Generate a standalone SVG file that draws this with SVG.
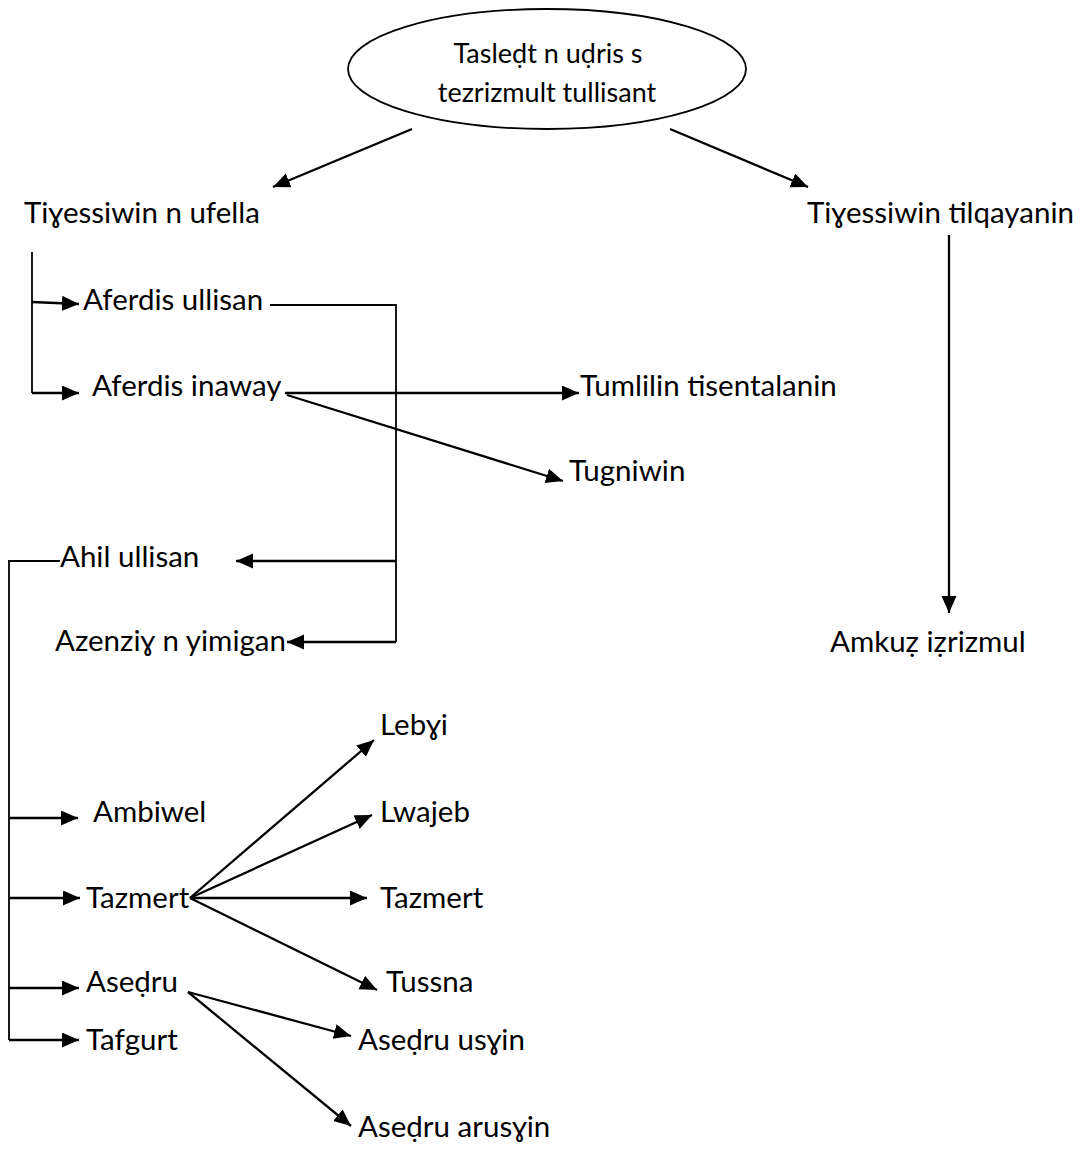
<svg xmlns="http://www.w3.org/2000/svg" width="1085" height="1169" viewBox="0 0 1085 1169">
  <style>
    .lbl { font-family: "Lato", "Noto Sans", "DejaVu Sans", sans-serif; font-size: 29.5px; fill: #000; }
    .root-lbl { font-family: "Lato", "Noto Sans", "DejaVu Sans", sans-serif; font-size: 27px; fill: #000; text-anchor: middle; }
    .arrow { stroke: #000; stroke-width: 2.3; fill: none; marker-end: url(#head); }
    .plain { stroke: #000; stroke-width: 1.8; fill: none; }
  </style>
  <defs>
    <marker id="head" markerUnits="userSpaceOnUse" markerWidth="18" markerHeight="16" refX="17" refY="7.5" orient="auto">
      <path d="M0,0 L17,7.5 L0,15 z" fill="#000"/>
    </marker>
  </defs>
  <rect width="1085" height="1169" fill="#fff"/>

  <!-- connectors -->
  <g id="connectors">
    <!-- root to the two branches -->
    <line class="arrow" x1="412" y1="129" x2="273" y2="187"/>
    <line class="arrow" x1="670" y1="129" x2="808" y2="187"/>
    <!-- right branch -->
    <line class="arrow" x1="949" y1="235" x2="949" y2="613"/>
    <!-- left branch bracket -->
    <path class="plain" d="M32,252 V393"/>
    <line class="arrow" x1="32" y1="302" x2="79" y2="304"/>
    <line class="arrow" x1="32" y1="393" x2="79" y2="393"/>
    <!-- Aferdis ullisan loop -->
    <path class="plain" d="M270,305 H396 V642"/>
    <line class="arrow" x1="396" y1="561" x2="236" y2="561"/>
    <line class="arrow" x1="396" y1="642" x2="287" y2="642"/>
    <!-- Aferdis inaway -->
    <line class="arrow" x1="285" y1="393" x2="579" y2="393"/>
    <line class="arrow" x1="287" y1="395" x2="563" y2="481"/>
    <!-- Ahil ullisan bracket -->
    <path class="plain" d="M60,561 H9 V1040"/>
    <line class="arrow" x1="9" y1="818" x2="78" y2="818"/>
    <line class="arrow" x1="9" y1="898" x2="80" y2="898"/>
    <line class="arrow" x1="9" y1="988" x2="79" y2="988"/>
    <line class="arrow" x1="9" y1="1040" x2="79" y2="1040"/>
    <!-- Tazmert fan -->
    <line class="arrow" x1="190" y1="898" x2="374" y2="740"/>
    <line class="arrow" x1="190" y1="898" x2="372" y2="815"/>
    <line class="arrow" x1="190" y1="898" x2="367" y2="898"/>
    <line class="arrow" x1="190" y1="898" x2="377" y2="990"/>
    <!-- Asedru fan -->
    <line class="arrow" x1="188" y1="992" x2="351" y2="1036"/>
    <line class="arrow" x1="188" y1="992" x2="351" y2="1126"/>
  </g>

  <!-- nodes -->
  <g id="root">
    <ellipse cx="547" cy="69" rx="199" ry="60" fill="#fff" stroke="#000" stroke-width="1.8"/>
    <text class="root-lbl" x="548" y="63">Tasleḍt n uḍris s</text>
    <text class="root-lbl" x="547" y="102">tezrizmult tullisant</text>
  </g>
  <g id="n-ufella"><text class="lbl" x="24" y="223">Tiɣessiwin n ufella</text></g>
  <g id="n-tilqayanin"><text class="lbl" x="807" y="223">Tiɣessiwin tilqayanin</text></g>
  <g id="n-amkuz"><text class="lbl" x="830" y="652">Amkuẓ iẓrizmul</text></g>
  <g id="n-aferdis-ullisan"><text class="lbl" x="83" y="310">Aferdis ullisan</text></g>
  <g id="n-aferdis-inaway"><text class="lbl" x="92" y="396">Aferdis inaway</text></g>
  <g id="n-tumlilin"><text class="lbl" x="580" y="396">Tumlilin tisentalanin</text></g>
  <g id="n-tugniwin"><text class="lbl" x="569" y="481">Tugniwin</text></g>
  <g id="n-ahil"><text class="lbl" x="60" y="567">Ahil ullisan</text></g>
  <g id="n-azenziy"><text class="lbl" x="55" y="651">Azenziɣ n yimigan</text></g>
  <g id="n-lebyi"><text class="lbl" x="380" y="735">Lebɣi</text></g>
  <g id="n-lwajeb"><text class="lbl" x="380" y="822">Lwajeb</text></g>
  <g id="n-ambiwel"><text class="lbl" x="93" y="822">Ambiwel</text></g>
  <g id="n-tazmert"><text class="lbl" x="86" y="908">Tazmert</text></g>
  <g id="n-tazmert-2"><text class="lbl" x="380" y="908">Tazmert</text></g>
  <g id="n-tussna"><text class="lbl" x="386" y="992">Tussna</text></g>
  <g id="n-asedru"><text class="lbl" x="86" y="992">Aseḍru</text></g>
  <g id="n-tafgurt"><text class="lbl" x="86" y="1050">Tafgurt</text></g>
  <g id="n-asedru-usyin"><text class="lbl" x="358" y="1050">Aseḍru usɣin</text></g>
  <g id="n-asedru-arusyin"><text class="lbl" x="358" y="1137">Aseḍru arusɣin</text></g>
</svg>
